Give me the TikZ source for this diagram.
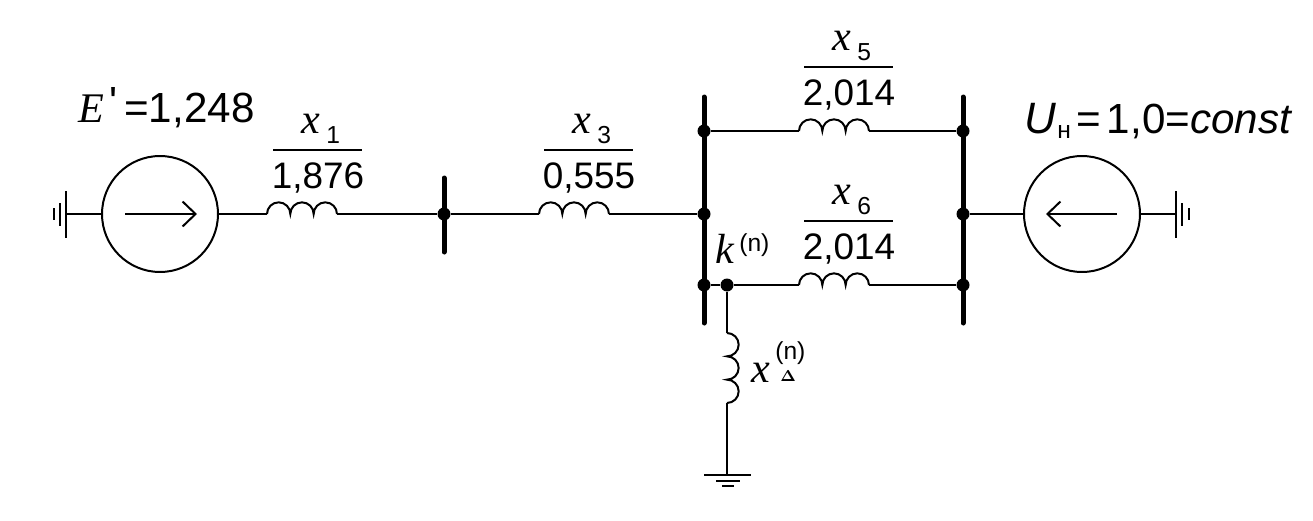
\documentclass[tikz,border=0pt]{standalone}
\usepackage{fontspec}
\setmainfont{Liberation Sans}
\newfontfamily\serifface{Liberation Serif}
\newfontfamily\plainface{Liberation Sans}
\usetikzlibrary{arrows.meta}
\newcommand{\sym}[1]{{\fontsize{24}{24}\selectfont\serifface\itshape #1}}
\tikzset{
  wire/.style={line width=.04cm},
  bus/.style={line width=.1cm, line cap=round},
  dot/.style={circle, fill=black, inner sep=0pt, minimum size=.26cm},
  source/.style={circle, draw, line width=.04cm, inner sep=0pt, minimum size=2.32cm},
  value/.style={font=\fontsize{21}{21}\selectfont, inner sep=0pt, anchor=base},
  big/.style={font=\fontsize{24}{24}\selectfont, inner sep=0pt, anchor=base west},
  small/.style={font=\fontsize{14}{14}\selectfont, inner sep=0pt, anchor=base west}
}
\begin{document}
\begin{tikzpicture}[x=.02cm, y=-.02cm]
\useasboundingbox (0,0) rectangle (1313,521);
% sources
\node[source] (gen) at (160,214) {};
\node[source] (sys) at (1082,214) {};
\coordinate (genIn) at (125,214);
\coordinate (genOut) at (197,214);
\coordinate (sysIn) at (1117,214);
\coordinate (sysOut) at (1046,214);
\draw [wire, -{Straight Barb[length=.26cm, width=.5cm]}] (genIn) -- (genOut);
\draw [wire, -{Straight Barb[length=.26cm, width=.5cm]}] (sysIn) -- (sysOut);
% busbars
\draw [bus] (444,178) coordinate (busAt) -- (444,252) coordinate (busAb);
\draw [bus] (704,97) coordinate (busBt) -- (704,323) coordinate (busBb);
\draw [bus] (963,97) coordinate (busCt) -- (963,323) coordinate (busCb);
\node[dot] (a) at (444,214) {};
\node[dot] (b1) at (704,131) {};
\node[dot] (b2) at (704,214) {};
\node[dot] (b3) at (704,285) {};
\node[dot] (k) at (727,285) {};
\node[dot] (c1) at (963,131) {};
\node[dot] (c2) at (963,214) {};
\node[dot] (c3) at (963,285) {};
% coils along the lines
\foreach \nm/\cx/\cy in {one/267/214, three/539/214, five/799/131, six/799/285} {
  \coordinate (\nm L) at (\cx,\cy);
  \coordinate (\nm R) at (\cx+70,\cy);
  \draw [wire] (\nm L) arc [start angle=180, end angle=0, radius=.2333cm]
    arc [start angle=180, end angle=0, radius=.2333cm]
    arc [start angle=180, end angle=0, radius=.2333cm];
}
\coordinate (coilT) at (727,333);
\coordinate (coilB) at (727,403);
\draw [wire] (coilT) arc [start angle=90, end angle=-90, radius=.2333cm]
  arc [start angle=90, end angle=-90, radius=.2333cm]
  arc [start angle=90, end angle=-90, radius=.2333cm];
% grounds
\coordinate (gndL) at (66,214);
\coordinate (gndR) at (1176,214);
\coordinate (gndD) at (727,475);
\draw [wire] (66,191) -- (66,238);
\draw [wire] (60,203) -- (60,226);
\draw [wire] (54,208) -- (54,220);
\draw [wire] (1176,191) -- (1176,238);
\draw [wire] (1182,203) -- (1182,226);
\draw [wire] (1189,208) -- (1189,220);
\draw [wire] (704,475) -- (751,475);
\draw [wire] (716,481) -- (740,481);
\draw [wire] (722,486) -- (734,486);
% connections
\draw [wire] (gndL) -- (gen.west);
\draw [wire] (gen.east) -- (oneL);
\draw [wire] (oneR) -- (a);
\draw [wire] (a) -- (threeL);
\draw [wire] (threeR) -- (b2);
\draw [wire] (b1) -- (fiveL);
\draw [wire] (fiveR) -- (c1);
\draw [wire] (b3) -- (k);
\draw [wire] (k) -- (sixL);
\draw [wire] (sixR) -- (c3);
\draw [wire] (k) -- (coilT);
\draw [wire] (coilB) -- (gndD);
\draw [wire] (c2) -- (sys.west);
\draw [wire] (sys.east) -- (gndR);
% fractions over the coils
\foreach \nm/\cx/\ybar/\sub/\val in {xone/318/150/1/{1,876}, xthree/589/150/3/{0,555}, xfive/849/67/5/{2,014}, xsix/849/221/6/{2,014}} {
  \node[value] (\nm v) at (\cx,\ybar+38) {\val};
  \node[big, anchor=base] (\nm s) at (\cx-7,\ybar-17) {\sym{x}};
  \node[small] (\nm n) at (\cx+8,\ybar-7) {\sub};
  \coordinate (\nm a) at (\cx-45,\ybar);
  \coordinate (\nm b) at (\cx+44,\ybar);
  \draw [line width=.035cm] (\nm a) -- (\nm b);
}
% labels
\node[big] (eLab) at (78,122) {\sym{E}};
\node[big] (eTick) at (109,116) {\plainface '};
\node[big] (eVal) at (124,122) {=1,248};
\node[big, font=\fontsize{25}{25}\selectfont] (uLab) at (1024,133) {\textit{U}};
\node[small] (uSub) at (1057,138) {н};
\node[big] (uVal) at (1076,133) {=\hspace{.12cm}1,0=\textit{const}};
\node[big] (kLab) at (715,263) {\sym{k}};
\node[small] (kSup) at (739,251) {(n)};
\node[big] (xLab) at (751,382) {\sym{x}};
\node[small] (xSup) at (775,359) {(n)};
\node[small, font=\fontsize{9}{9}\selectfont\boldmath] (xSub) at (780,381) {$\Delta$};
\end{tikzpicture}
\end{document}
